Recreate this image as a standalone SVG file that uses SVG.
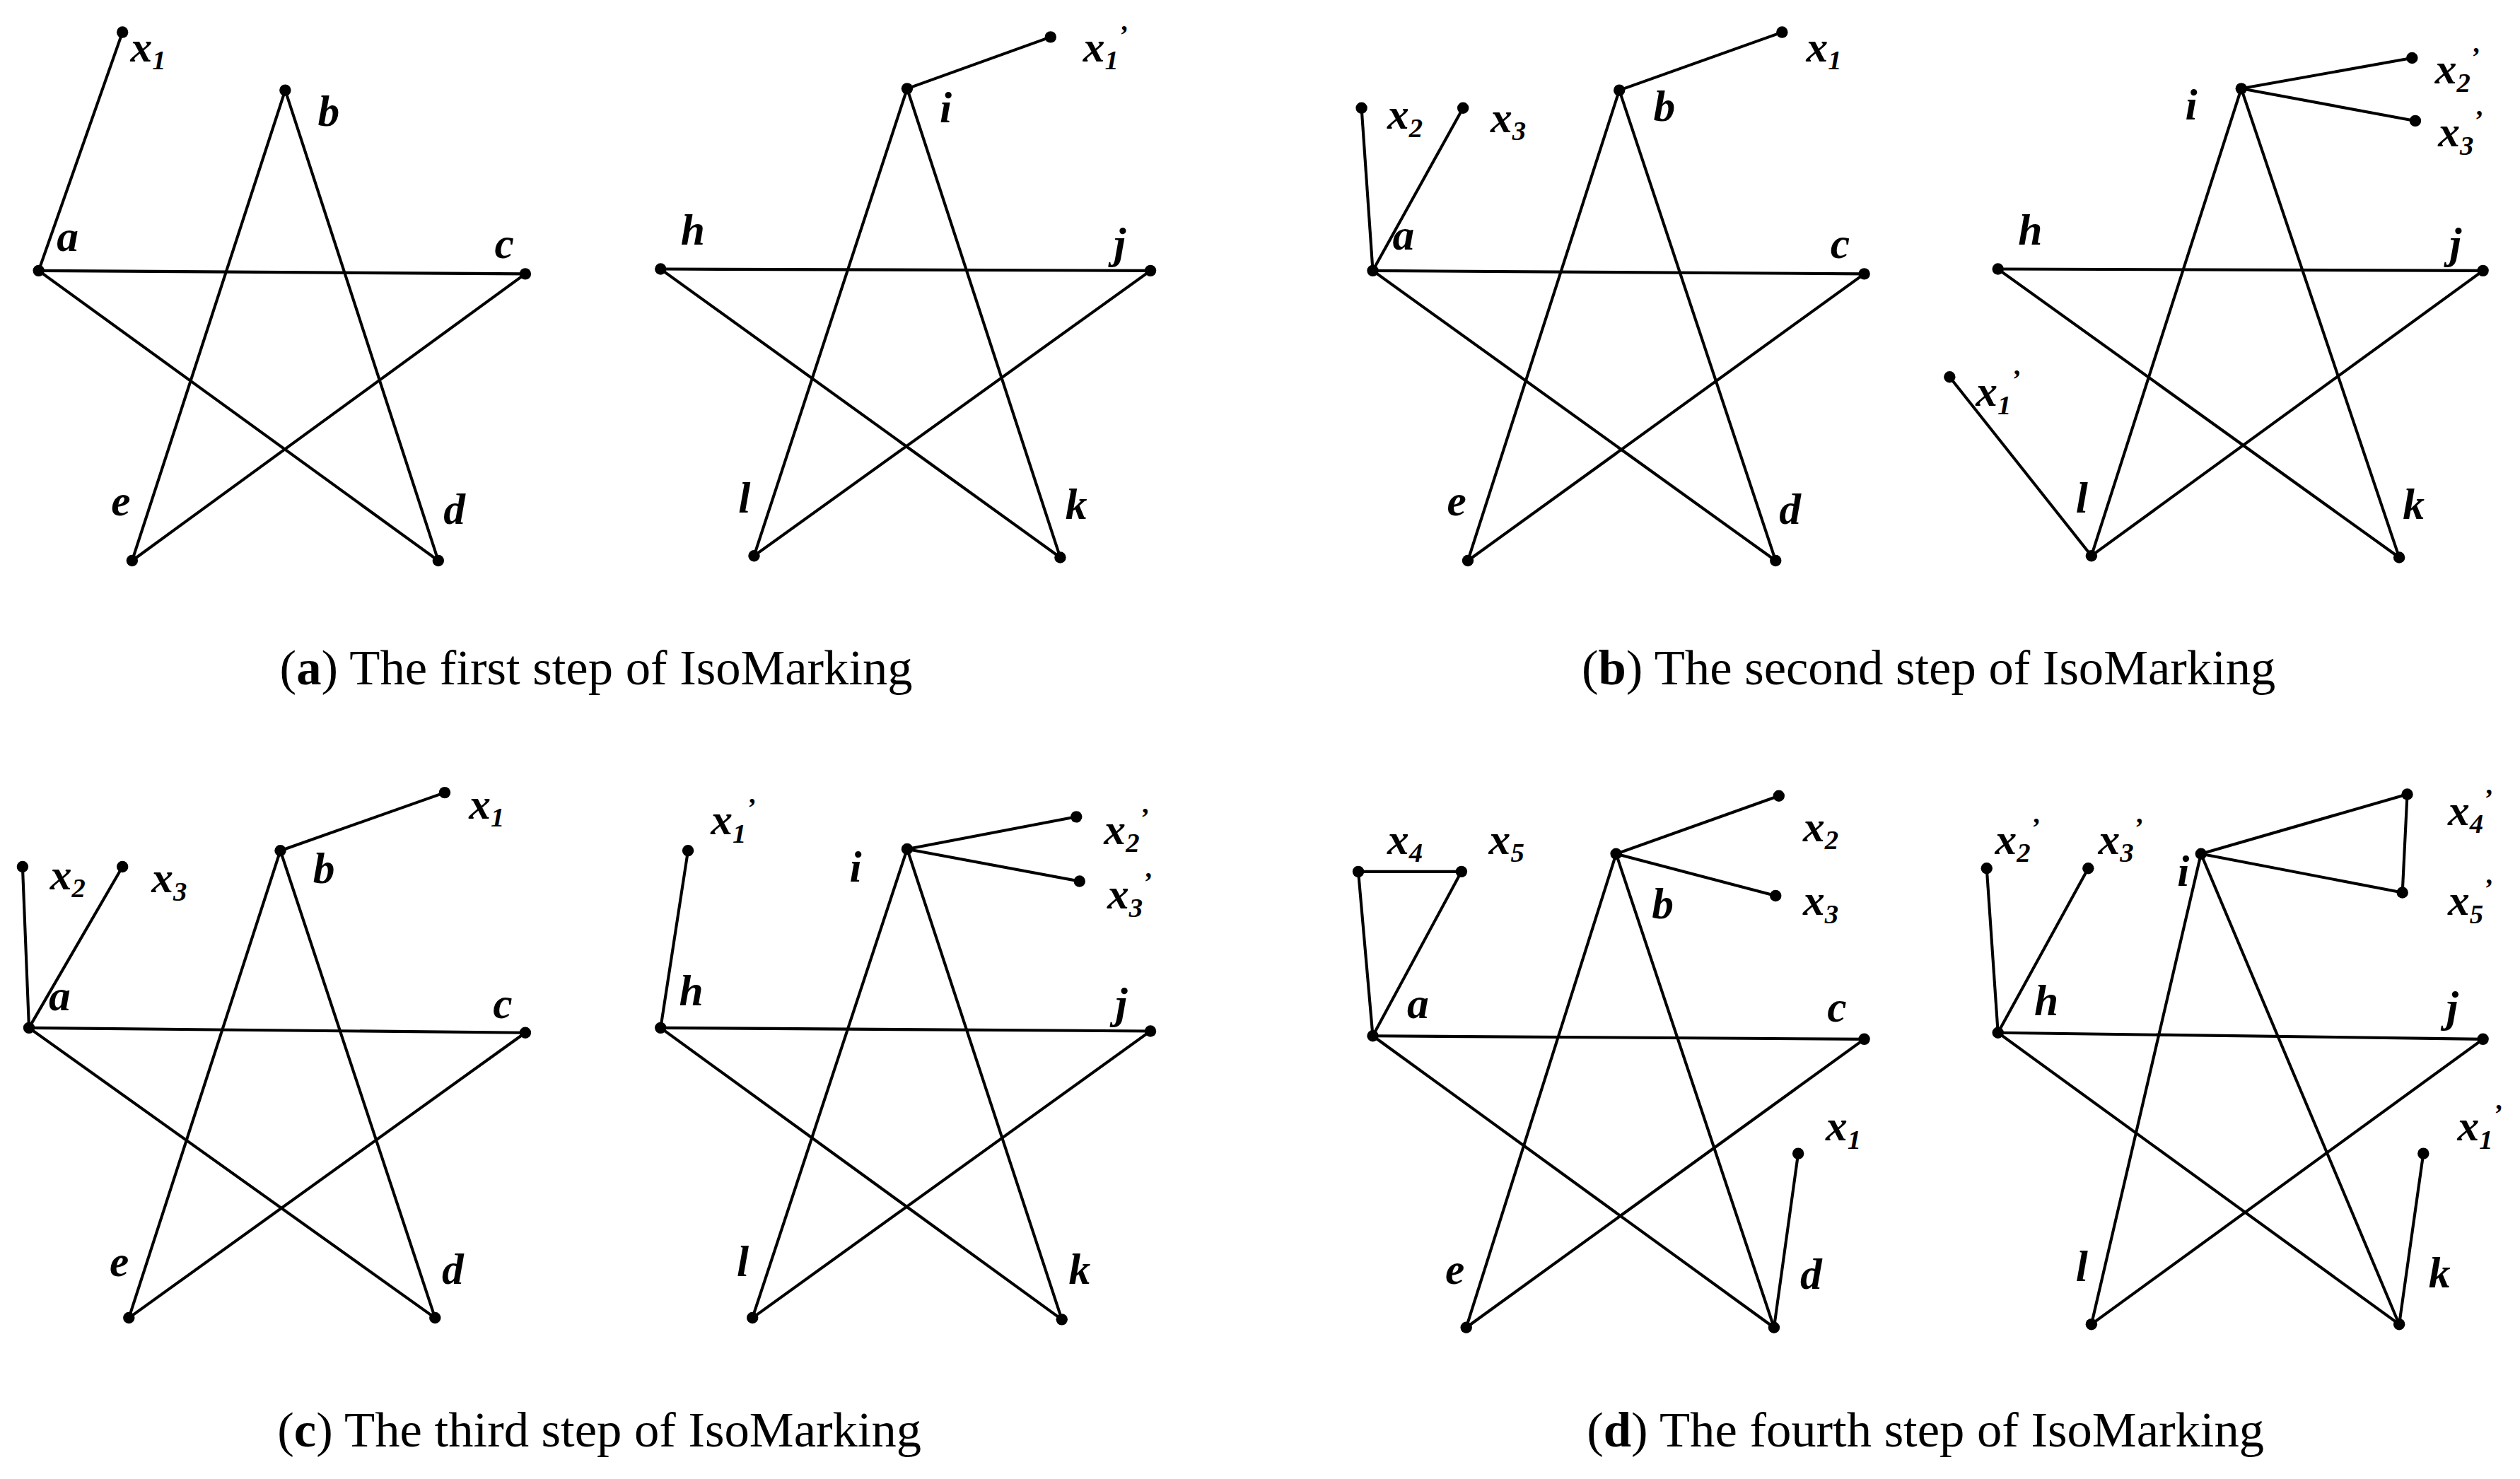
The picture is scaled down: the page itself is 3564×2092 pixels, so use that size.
<svg xmlns="http://www.w3.org/2000/svg" width="3564" height="2092" viewBox="0 0 3564 2092">
<style>
.e line{stroke:#000;stroke-width:1.8}
circle{fill:#000}
.l{font-family:"Liberation Serif",serif;font-style:italic;font-weight:bold;font-size:27px;text-anchor:middle}
.s{font-size:17px}
.c{font-family:"Liberation Serif",serif;font-size:31px;text-anchor:middle}
</style>
<rect width="3564" height="2092" fill="#fff"/>
<g transform="scale(2.2788)">
<g id="connectors" class="e">
<line x1="24" y1="168" x2="76" y2="20"/><line x1="24" y1="168" x2="326" y2="170"/><line x1="24" y1="168" x2="272" y2="348"/><line x1="177" y1="56" x2="82" y2="348"/><line x1="177" y1="56" x2="272" y2="348"/><line x1="326" y1="170" x2="82" y2="348"/>
<line x1="563" y1="55" x2="652" y2="23"/><line x1="410" y1="167" x2="714" y2="168"/><line x1="410" y1="167" x2="658" y2="346"/><line x1="563" y1="55" x2="468" y2="345"/><line x1="563" y1="55" x2="658" y2="346"/><line x1="714" y1="168" x2="468" y2="345"/>
<line x1="852" y1="168" x2="845" y2="67"/><line x1="852" y1="168" x2="908" y2="67"/><line x1="1005" y1="56" x2="1106" y2="20"/><line x1="852" y1="168" x2="1157" y2="170"/><line x1="852" y1="168" x2="1102" y2="348"/><line x1="1005" y1="56" x2="911" y2="348"/><line x1="1005" y1="56" x2="1102" y2="348"/><line x1="1157" y1="170" x2="911" y2="348"/>
<line x1="1391" y1="55" x2="1497" y2="36"/><line x1="1391" y1="55" x2="1499" y2="75"/><line x1="1298" y1="345" x2="1210" y2="234"/><line x1="1240" y1="167" x2="1541" y2="168"/><line x1="1240" y1="167" x2="1489" y2="346"/><line x1="1391" y1="55" x2="1298" y2="345"/><line x1="1391" y1="55" x2="1489" y2="346"/><line x1="1541" y1="168" x2="1298" y2="345"/>
<line x1="18" y1="638" x2="14" y2="538"/><line x1="18" y1="638" x2="76" y2="538"/><line x1="174" y1="528" x2="276" y2="492"/><line x1="18" y1="638" x2="326" y2="641"/><line x1="18" y1="638" x2="270" y2="818"/><line x1="174" y1="528" x2="80" y2="818"/><line x1="174" y1="528" x2="270" y2="818"/><line x1="326" y1="641" x2="80" y2="818"/>
<line x1="410" y1="638" x2="427" y2="528"/><line x1="563" y1="527" x2="668" y2="507"/><line x1="563" y1="527" x2="670" y2="547"/><line x1="410" y1="638" x2="714" y2="640"/><line x1="410" y1="638" x2="659" y2="819"/><line x1="563" y1="527" x2="467" y2="818"/><line x1="563" y1="527" x2="659" y2="819"/><line x1="714" y1="640" x2="467" y2="818"/>
<line x1="843" y1="541" x2="907" y2="541"/><line x1="843" y1="541" x2="852" y2="643"/><line x1="907" y1="541" x2="852" y2="643"/><line x1="1003" y1="530" x2="1104" y2="494"/><line x1="1003" y1="530" x2="1102" y2="556"/><line x1="1101" y1="824" x2="1116" y2="716"/><line x1="852" y1="643" x2="1157" y2="645"/><line x1="852" y1="643" x2="1101" y2="824"/><line x1="1003" y1="530" x2="910" y2="824"/><line x1="1003" y1="530" x2="1101" y2="824"/><line x1="1157" y1="645" x2="910" y2="824"/>
<line x1="1240" y1="641" x2="1233" y2="539"/><line x1="1240" y1="641" x2="1296" y2="539"/><line x1="1366" y1="530" x2="1494" y2="493"/><line x1="1366" y1="530" x2="1491" y2="554"/><line x1="1494" y1="493" x2="1491" y2="554"/><line x1="1489" y1="822" x2="1504" y2="716"/><line x1="1240" y1="641" x2="1541" y2="645"/><line x1="1240" y1="641" x2="1489" y2="822"/><line x1="1366" y1="530" x2="1298" y2="822"/><line x1="1366" y1="530" x2="1489" y2="822"/><line x1="1541" y1="645" x2="1298" y2="822"/>
</g>
<g id="panel-a">
<circle cx="76" cy="20" r="3.6"/><circle cx="24" cy="168" r="3.6"/><circle cx="177" cy="56" r="3.6"/><circle cx="326" cy="170" r="3.6"/><circle cx="82" cy="348" r="3.6"/><circle cx="272" cy="348" r="3.6"/>
<circle cx="563" cy="55" r="3.6"/><circle cx="652" cy="23" r="3.6"/><circle cx="410" cy="167" r="3.6"/><circle cx="714" cy="168" r="3.6"/><circle cx="468" cy="345" r="3.6"/><circle cx="658" cy="346" r="3.6"/>
<text class="l" x="92" y="38">x<tspan class="s" dy="5">1</tspan></text>
<text class="l" x="204" y="78">b</text><text class="l" x="42" y="156">a</text><text class="l" x="313" y="160">c</text><text class="l" x="75" y="320">e</text><text class="l" x="282" y="325">d</text>
<text class="l" x="686" y="38">x<tspan class="s" dy="5">1</tspan><tspan class="s" dy="-16">’</tspan></text>
<text class="l" x="587" y="76">i</text><text class="l" x="430" y="152">h</text><text class="l" x="695" y="160">j</text><text class="l" x="462" y="318">l</text><text class="l" x="668" y="322">k</text>
</g>
<g id="panel-b">
<circle cx="1106" cy="20" r="3.6"/><circle cx="1005" cy="56" r="3.6"/><circle cx="852" cy="168" r="3.6"/><circle cx="845" cy="67" r="3.6"/><circle cx="908" cy="67" r="3.6"/><circle cx="1157" cy="170" r="3.6"/><circle cx="911" cy="348" r="3.6"/><circle cx="1102" cy="348" r="3.6"/>
<circle cx="1391" cy="55" r="3.6"/><circle cx="1497" cy="36" r="3.6"/><circle cx="1499" cy="75" r="3.6"/><circle cx="1240" cy="167" r="3.6"/><circle cx="1541" cy="168" r="3.6"/><circle cx="1210" cy="234" r="3.6"/><circle cx="1298" cy="345" r="3.6"/><circle cx="1489" cy="346" r="3.6"/>
<text class="l" x="1132" y="38">x<tspan class="s" dy="5">1</tspan></text>
<text class="l" x="872" y="80">x<tspan class="s" dy="5">2</tspan></text>
<text class="l" x="936" y="82">x<tspan class="s" dy="5">3</tspan></text>
<text class="l" x="1033" y="75">b</text><text class="l" x="871" y="155">a</text><text class="l" x="1142" y="160">c</text><text class="l" x="904" y="320">e</text><text class="l" x="1111" y="325">d</text>
<text class="l" x="1360" y="74">i</text>
<text class="l" x="1525" y="52">x<tspan class="s" dy="5">2</tspan><tspan class="s" dy="-16">’</tspan></text>
<text class="l" x="1527" y="91">x<tspan class="s" dy="5">3</tspan><tspan class="s" dy="-16">’</tspan></text>
<text class="l" x="1260" y="152">h</text><text class="l" x="1524" y="160">j</text>
<text class="l" x="1240" y="252">x<tspan class="s" dy="5">1</tspan><tspan class="s" dy="-16">’</tspan></text>
<text class="l" x="1292" y="318">l</text><text class="l" x="1498" y="322">k</text>
</g>
<g id="panel-c">
<circle cx="276" cy="492" r="3.6"/><circle cx="174" cy="528" r="3.6"/><circle cx="18" cy="638" r="3.6"/><circle cx="14" cy="538" r="3.6"/><circle cx="76" cy="538" r="3.6"/><circle cx="326" cy="641" r="3.6"/><circle cx="80" cy="818" r="3.6"/><circle cx="270" cy="818" r="3.6"/>
<circle cx="427" cy="528" r="3.6"/><circle cx="563" cy="527" r="3.6"/><circle cx="668" cy="507" r="3.6"/><circle cx="670" cy="547" r="3.6"/><circle cx="410" cy="638" r="3.6"/><circle cx="714" cy="640" r="3.6"/><circle cx="467" cy="818" r="3.6"/><circle cx="659" cy="819" r="3.6"/>
<text class="l" x="302" y="508">x<tspan class="s" dy="5">1</tspan></text>
<text class="l" x="42" y="552">x<tspan class="s" dy="5">2</tspan></text>
<text class="l" x="105" y="554">x<tspan class="s" dy="5">3</tspan></text>
<text class="l" x="201" y="548">b</text><text class="l" x="37" y="627">a</text><text class="l" x="312" y="632">c</text><text class="l" x="74" y="792">e</text><text class="l" x="281" y="797">d</text>
<text class="l" x="455" y="518">x<tspan class="s" dy="5">1</tspan><tspan class="s" dy="-16">’</tspan></text>
<text class="l" x="531" y="547">i</text>
<text class="l" x="699" y="524">x<tspan class="s" dy="5">2</tspan><tspan class="s" dy="-16">’</tspan></text>
<text class="l" x="701" y="564">x<tspan class="s" dy="5">3</tspan><tspan class="s" dy="-16">’</tspan></text>
<text class="l" x="429" y="624">h</text><text class="l" x="696" y="632">j</text><text class="l" x="461" y="792">l</text><text class="l" x="670" y="797">k</text>
</g>
<g id="panel-d">
<circle cx="843" cy="541" r="3.6"/><circle cx="907" cy="541" r="3.6"/><circle cx="852" cy="643" r="3.6"/><circle cx="1003" cy="530" r="3.6"/><circle cx="1104" cy="494" r="3.6"/><circle cx="1102" cy="556" r="3.6"/><circle cx="1157" cy="645" r="3.6"/><circle cx="1116" cy="716" r="3.6"/><circle cx="910" cy="824" r="3.6"/><circle cx="1101" cy="824" r="3.6"/>
<circle cx="1233" cy="539" r="3.6"/><circle cx="1296" cy="539" r="3.6"/><circle cx="1240" cy="641" r="3.6"/><circle cx="1366" cy="530" r="3.6"/><circle cx="1494" cy="493" r="3.6"/><circle cx="1491" cy="554" r="3.6"/><circle cx="1541" cy="645" r="3.6"/><circle cx="1504" cy="716" r="3.6"/><circle cx="1298" cy="822" r="3.6"/><circle cx="1489" cy="822" r="3.6"/>
<text class="l" x="872" y="530">x<tspan class="s" dy="5">4</tspan></text>
<text class="l" x="935" y="530">x<tspan class="s" dy="5">5</tspan></text>
<text class="l" x="1032" y="570">b</text>
<text class="l" x="1130" y="522">x<tspan class="s" dy="5">2</tspan></text>
<text class="l" x="1130" y="568">x<tspan class="s" dy="5">3</tspan></text>
<text class="l" x="880" y="632">a</text><text class="l" x="1140" y="634">c</text>
<text class="l" x="1144" y="708">x<tspan class="s" dy="5">1</tspan></text>
<text class="l" x="903" y="797">e</text><text class="l" x="1124" y="800">d</text>
<text class="l" x="1252" y="530">x<tspan class="s" dy="5">2</tspan><tspan class="s" dy="-16">’</tspan></text>
<text class="l" x="1316" y="530">x<tspan class="s" dy="5">3</tspan><tspan class="s" dy="-16">’</tspan></text>
<text class="l" x="1355" y="550">i</text>
<text class="l" x="1533" y="512">x<tspan class="s" dy="5">4</tspan><tspan class="s" dy="-16">’</tspan></text>
<text class="l" x="1533" y="568">x<tspan class="s" dy="5">5</tspan><tspan class="s" dy="-16">’</tspan></text>
<text class="l" x="1270" y="630">h</text><text class="l" x="1522" y="634">j</text>
<text class="l" x="1539" y="708">x<tspan class="s" dy="5">1</tspan><tspan class="s" dy="-16">’</tspan></text>
<text class="l" x="1292" y="795">l</text><text class="l" x="1514" y="799">k</text>
</g>
<g id="captions">
<text class="c" x="370" y="425">(<tspan font-weight="bold">a</tspan>) The first step of IsoMarking</text>
<text class="c" x="1197" y="425">(<tspan font-weight="bold">b</tspan>) The second step of IsoMarking</text>
<text class="c" x="372" y="898">(<tspan font-weight="bold">c</tspan>) The third step of IsoMarking</text>
<text class="c" x="1195" y="898">(<tspan font-weight="bold">d</tspan>) The fourth step of IsoMarking</text>
</g>
</g>
</svg>
